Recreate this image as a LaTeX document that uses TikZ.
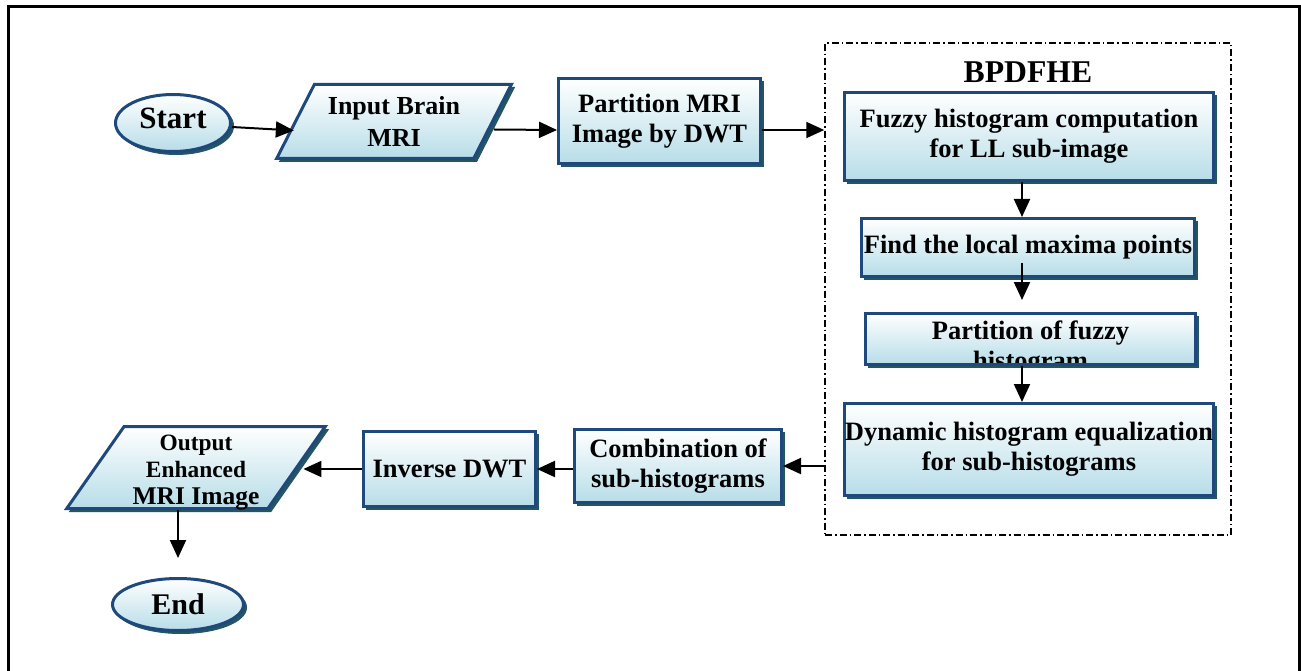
\documentclass[tikz,border=0pt]{standalone}
\usepackage{fontspec}
\setmainfont{Liberation Serif}
\usetikzlibrary{shapes.geometric, arrows.meta, shadows, positioning}

\definecolor{boxblue}{RGB}{31,73,125}
\definecolor{shadowteal}{RGB}{36,86,96}
\definecolor{fillblue}{RGB}{183,221,232}

\begin{document}
\begin{tikzpicture}[x=1pt, y=-1pt,
            % Styles
            boxtext/.style={font=\fontsize{26.5}{30}\selectfont\bfseries, align=center},
            boxlook/.style={draw=boxblue, line width=3pt, top color=white, bottom color=fillblue, inner sep=0pt,
                copy shadow={shadow xshift=3pt, shadow yshift=-3pt, draw=shadowteal, fill=shadowteal, line width=1pt}},
            process/.style={rectangle, boxlook, boxtext},
            terminal/.style={ellipse, boxlook},
            io/.style={trapezium, trapezium left angle=58, trapezium right angle=122, trapezium stretches=true, boxlook, align=center},
            group/.style={draw, line width=1.5pt, dash pattern=on 7pt off 3pt on 1.5pt off 3pt},
            line/.style={draw, line width=2pt, -{Triangle[length=18pt, width=16pt]}}
        ]

        \useasboundingbox (0,0) rectangle (1301,671);

        % Frame
        \draw[line width=3pt] (8,7) rectangle (1299.5,720);

        % Nodes
        \node [terminal, minimum width=115pt, minimum height=57pt, font=\fontsize{31}{34}\selectfont\bfseries] (start) at (173,123) {\raisebox{5pt}[\height][\depth]{Start}};

        \node [io, minimum width=235pt, minimum height=74pt, font=\fontsize{26}{32}\selectfont\bfseries] (input) at (394,121.5) {Input Brain\\MRI};

        \node [process, minimum width=202pt, minimum height=85pt] (part) at (659.5,121) {Partition MRI\\Image by DWT};

        % BPDFHE group
        \node [group, minimum width=406pt, minimum height=492pt] (bpd) at (1028,289) {};
        \node [font=\fontsize{31.7}{34}\selectfont\bfseries] (title) at (1028,72) {BPDFHE};

        \node [process, minimum width=369pt, minimum height=88pt] (fuzzy) at (1029,136.5) {Fuzzy histogram computation\\for LL sub-image};

        \node [process, minimum width=333pt, minimum height=58pt] (find) at (1028,247.5) {Find the local maxima points};

        \node [process, minimum width=330pt, minimum height=51pt,
            path picture={\node[boxtext] at ([yshift=-9pt]path picture bounding box.center) {Partition of fuzzy\\histogram};}] (pfuzzy) at (1030.5,339) {};

        \node [process, minimum width=369pt, minimum height=92pt] (dyn) at (1029,449.5) {Dynamic histogram equalization\\for sub-histograms};

        \node [process, minimum width=207pt, minimum height=73pt] (comb) at (678,466) {Combination of\\sub-histograms};

        \node [process, minimum width=172pt, minimum height=75pt] (inv) at (449.5,469) {Inverse DWT};

        \node [io, minimum width=259pt, minimum height=82pt, font=\fontsize{23.4}{27}\selectfont\bfseries] (out) at (196,467.5)
            {\raisebox{-5pt}[\height][\depth]{\begin{tabular}{@{}c@{}}Output\\Enhanced\\\fontsize{25.5}{28}\selectfont MRI Image\end{tabular}}};

        \node [terminal, minimum width=131pt, minimum height=52pt, font=\fontsize{30}{33}\selectfont\bfseries] (end) at (178,604.5) {End};

        % Edges
        \path [line] ([yshift=-4pt]start.east) -- ([yshift=-9pt]input.west);
        \path [line] ([yshift=-8pt]input.east) -- ([yshift=-9pt]part.west);
        \path [line] ([yshift=-9pt]part.east) -- ([yshift=-9pt]part.east -| bpd.west);
        \path [line] ([xshift=-7pt]fuzzy.south) -- ([xshift=-6pt]find.north);
        \path [line] ([xshift=-6pt, yshift=-15pt]find.center) -- ([xshift=-8.5pt, yshift=12pt]pfuzzy.north);
        \path [line] ([xshift=-8.5pt]pfuzzy.south) -- ([xshift=-7pt]dyn.north);
        \path [line] (bpd.west |- comb.east) -- (comb.east);
        \path [line] (comb.west |- inv.east) -- (inv.east);
        \path [line] (inv.west) -- ([xshift=5pt]inv.west -| out.east);
        \path [line] (out.bottom side -| end.north) -- ([yshift=19pt]end.north);

    \end{tikzpicture}
\end{document}
